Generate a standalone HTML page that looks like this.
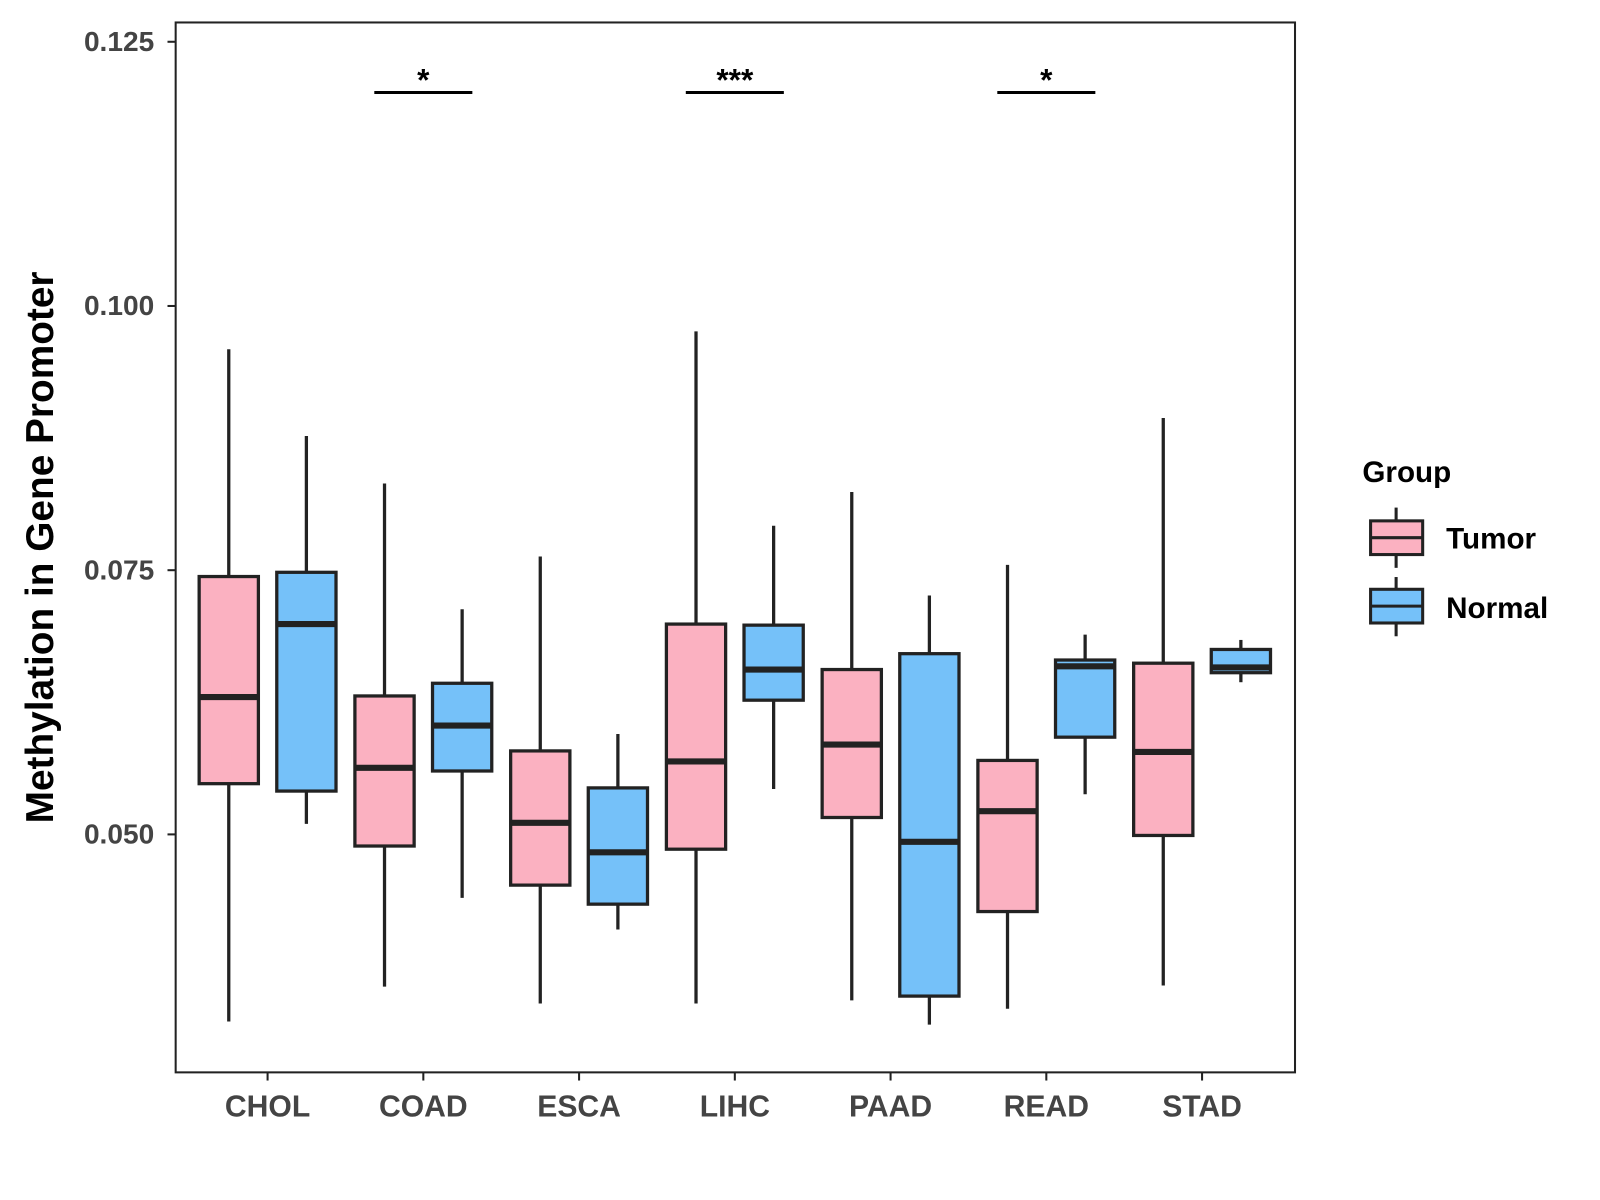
<!DOCTYPE html>
<html><head><meta charset="utf-8"><style>
html,body{margin:0;padding:0;background:#fff;}
svg{display:block;font-family:"Liberation Sans",Arial,sans-serif;font-weight:bold;}
</style></head><body>
<svg id="chart" width="1600" height="1200" viewBox="0 0 1600 1200" xmlns="http://www.w3.org/2000/svg">
<g transform="scale(1.0213)">
<rect x="172" y="22" width="1096" height="1028" fill="#fff" stroke="#222" stroke-width="2"/>
<g id="marks"></g>
<text transform="translate(52,536) rotate(-90)" text-anchor="middle" font-size="38" fill="#000">Methylation in Gene Promoter</text>
<g>
<text x="1334" y="472" font-size="29" fill="#000">Group</text>
<g>
<line x1="1367" y1="497" x2="1367" y2="556" stroke="#222" stroke-width="3"/>
<rect x="1342" y="510" width="51" height="33" fill="#FBB1C1" stroke="#222" stroke-width="3"/>
<line x1="1342" y1="526.5" x2="1393" y2="526.5" stroke="#222" stroke-width="3"/>
<text x="1416" y="537" font-size="29" fill="#000">Tumor</text>
</g>
<g>
<line x1="1367" y1="565" x2="1367" y2="623" stroke="#222" stroke-width="3"/>
<rect x="1342" y="577" width="51" height="33" fill="#75C1F9" stroke="#222" stroke-width="3"/>
<line x1="1342" y1="593.5" x2="1393" y2="593.5" stroke="#222" stroke-width="3"/>
<text x="1416" y="605" font-size="29" fill="#000">Normal</text>
</g>
</g>
</g>
</svg>
<script>
const categories = ["CHOL","COAD","ESCA","LIHC","PAAD","READ","STAD"];
// [lower whisker, q1, median, q3, upper whisker]
const tumorStats = [
 [0.0323,0.0548,0.0630,0.0744,0.0959],
 [0.0356,0.0489,0.0563,0.0631,0.0832],
 [0.0340,0.0452,0.0511,0.0579,0.0763],
 [0.0340,0.0486,0.0569,0.0699,0.0976],
 [0.0343,0.0516,0.0585,0.0656,0.0824],
 [0.0335,0.0427,0.0522,0.0570,0.0755],
 [0.0357,0.0499,0.0578,0.0662,0.0894]
];
const normalStats = [
 [0.0510,0.0541,0.0699,0.0748,0.0877],
 [0.0440,0.0560,0.0603,0.0643,0.0713],
 [0.0410,0.0434,0.0483,0.0544,0.0595],
 [0.0543,0.0627,0.0656,0.0698,0.0792],
 [0.0320,0.0347,0.0493,0.0671,0.0726],
 [0.0538,0.0592,0.0659,0.0665,0.0689],
 [0.0644,0.0653,0.0658,0.0675,0.0684]
];
const yTicks = [0.050,0.075,0.100,0.125];
const yTickLabels = ["0.050","0.075","0.100","0.125"];
const sigCategories = ["COAD","LIHC","READ"];
const sigLabels = ["*","***","*"];
const sigLevel = 0.1202;

const NS="http://www.w3.org/2000/svg";
const g=document.getElementById('marks');
function y(v){return 817-(v-0.050)*(258.7/0.025);}
function x(i){return 262+i*152.5;}
function el(tag,attrs,parent){const e=document.createElementNS(NS,tag);for(const k in attrs)e.setAttribute(k,attrs[k]);(parent||g).appendChild(e);return e;}

yTicks.forEach((t,i)=>{
 const tk=el('line',{x1:164,x2:172,y1:y(t),y2:y(t),stroke:'#222','stroke-width':2});
 
 
 const tx=el('text',{x:151,y:y(t)+9,'text-anchor':'end','font-size':27.5,fill:'#444'});
 tx.textContent=yTickLabels[i];
 
 
});
categories.forEach((c,i)=>{
 const tk=el('line',{x1:x(i),x2:x(i),y1:1050,y2:1058,stroke:'#222','stroke-width':2});
 
 
 const tx=el('text',{x:x(i),y:1093,'text-anchor':'middle','font-size':29.5,fill:'#444'});
 tx.textContent=c;
 
 
});
function box(s,cx,fill,name){
 const grp=el('g',{});
 
 
 el('line',{x1:cx,x2:cx,y1:y(s[0]),y2:y(s[4]),stroke:'#222','stroke-width':3.2},grp);
 el('rect',{x:cx-29,y:y(s[3]),width:58,height:y(s[1])-y(s[3]),fill:fill,stroke:'#222','stroke-width':3.2},grp);
 el('line',{x1:cx-29,x2:cx+29,y1:y(s[2]),y2:y(s[2]),stroke:'#222','stroke-width':6},grp);
}
categories.forEach((c,i)=>{
 box(tumorStats[i],x(i)-38,'#FBB1C1','box-tumor-'+c.toLowerCase());
 box(normalStats[i],x(i)+38,'#75C1F9','box-normal-'+c.toLowerCase());
});
sigCategories.forEach((c,k)=>{
 const i=categories.indexOf(c);
 const ln=el('line',{x1:x(i)-48,x2:x(i)+48,y1:y(sigLevel),y2:y(sigLevel),stroke:'#000','stroke-width':3});
 
 
 const tx=el('text',{x:x(i),y:y(sigLevel)-2,'text-anchor':'middle','font-size':31,fill:'#000'});
 tx.textContent=sigLabels[k];
 
 
});
</script>
</body></html>
